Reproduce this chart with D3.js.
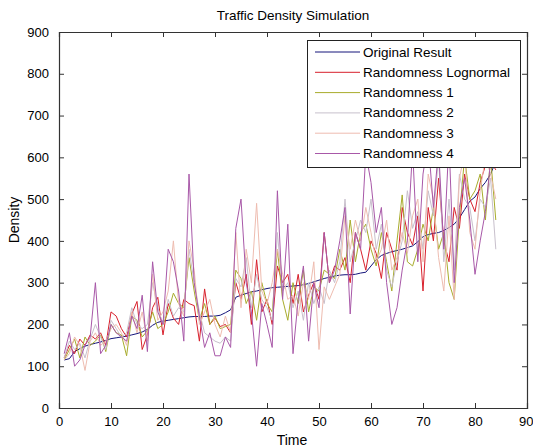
<!DOCTYPE html>
<html><head><meta charset="utf-8">
<script src="https://d3js.org/d3.v7.min.js"></script>
<style>body{margin:0;background:#fff}svg{display:block}text{font-family:"Liberation Sans",Arial,sans-serif;fill:#000}</style>
</head><body><div id="c"></div>
<script>
const time = d3.range(1, 85);
const originalResult = [115,118,135,142,148,152,155,158,162,166,168,170,172,175,178,182,188,198,205,208,210,212,214,216,218,219,219,219,220,220,222,228,235,265,270,274,278,280,283,286,288,289,290,291,292,293,295,298,302,306,310,313,316,318,319,319,320,323,325,340,355,365,370,374,377,380,384,388,398,410,415,418,420,425,432,440,455,475,495,505,525,540,560,590];
const randLognormal = [120,150,130,165,150,175,165,180,150,230,220,190,170,225,255,140,175,240,265,175,250,215,200,260,250,245,160,285,200,215,195,200,180,300,260,320,200,355,230,260,200,340,300,320,250,320,230,270,300,260,420,300,340,330,360,300,420,380,330,400,370,310,420,380,330,480,420,390,460,280,480,400,550,400,350,480,430,560,500,470,540,580,590,570];
const rand1 = [115,140,165,120,170,150,160,175,135,200,180,175,125,220,210,170,185,230,190,200,230,275,250,240,360,280,210,250,200,220,190,195,200,330,310,250,280,210,300,250,230,380,260,210,300,250,330,230,290,280,330,320,310,380,330,450,350,420,440,380,340,420,350,280,400,510,350,340,380,440,400,480,380,420,300,260,460,600,500,520,560,450,600,450];
const rand2 = [120,160,140,155,120,165,200,170,140,210,190,170,180,240,200,190,200,300,240,200,260,220,240,230,380,300,230,180,170,160,155,170,160,310,290,360,240,320,260,240,210,420,280,300,240,280,210,300,250,290,250,330,300,350,500,350,400,450,420,500,380,440,330,290,350,400,520,430,470,380,520,460,600,350,500,330,560,500,480,400,500,480,550,380];
const rand3 = [115,130,170,150,90,160,180,150,160,190,200,180,150,230,180,230,160,320,210,230,280,400,250,220,400,330,200,230,260,200,170,220,180,420,240,380,300,490,280,250,300,380,320,260,270,220,300,260,350,140,290,260,290,320,460,380,450,400,480,420,350,380,450,330,360,420,370,460,500,350,560,500,360,280,460,260,550,610,420,380,520,600,560,500];
const rand4 = [130,180,100,115,150,170,300,130,150,200,180,170,160,220,190,270,135,350,230,200,380,350,280,160,560,300,220,145,180,125,125,170,145,430,500,300,230,100,250,200,145,520,260,440,130,260,340,160,300,240,420,300,330,400,480,225,420,380,610,540,420,480,300,200,240,330,400,620,350,560,640,480,620,380,640,300,480,550,450,320,400,470,590,580];
const seriesNames = ["Original Result","Randomness Lognormal","Randomness 1","Randomness 2","Randomness 3","Randomness 4"];
const seriesValues = [originalResult, randLognormal, rand1, rand2, rand3, rand4];
const seriesColors = ["#14147a","#d8202c","#a8ac2c","#c8c0cc","#eebcb0","#a858a8"];
const xTicks = d3.range(0, 91, 10);
const yTicks = d3.range(0, 901, 100);

const W = 533, H = 448;
const m = {l:59, r:6, t:32, b:40};
const svg = d3.select("#c").append("svg").attr("width", W).attr("height", H);
const x = d3.scaleLinear().domain([0, 90]).range([m.l, W - m.r]);
const y = d3.scaleLinear().domain([0, 900]).range([H - m.b, m.t]);

svg.append("rect").attr("x", m.l).attr("y", m.t).attr("width", x(90)-m.l).attr("height", y(0)-m.t).attr("fill", "#fff");

const line = d3.line().x((d, i) => x(time[i])).y(d => y(d));
svg.append("clipPath").attr("id","cp").append("rect").attr("x", m.l).attr("y", m.t).attr("width", x(90)-m.l).attr("height", y(0)-m.t);
const g = svg.append("g").attr("clip-path","url(#cp)");
seriesValues.forEach((vals, k) => {
  g.append("path").datum(vals).attr("d", line).attr("fill","none").attr("stroke", seriesColors[k]).attr("stroke-width", 1);
});

// axes
const ax = svg.append("g").attr("transform", `translate(0,${y(0)})`).call(d3.axisBottom(x).tickValues(xTicks).tickSize(-5).tickPadding(9));
const axT = svg.append("g").attr("transform", `translate(0,${y(900)})`).call(d3.axisTop(x).tickValues(xTicks).tickSize(-5).tickFormat(""));
const ay = svg.append("g").attr("transform", `translate(${x(0)},0)`).call(d3.axisLeft(y).tickValues(yTicks).tickSize(-5).tickPadding(10));
const ayR = svg.append("g").attr("transform", `translate(${x(90)},0)`).call(d3.axisRight(y).tickValues(yTicks).tickSize(-5).tickFormat(""));
[ax, axT, ay, ayR].forEach(a => {
  a.selectAll("path.domain").attr("stroke", "#333").attr("stroke-width", 1.2);
  a.selectAll(".tick line").attr("stroke", "#333");
  a.selectAll("text").style("font-family", '"Liberation Sans",Arial,sans-serif').style("font-size", "13px").attr("fill", "#222");
});
ax.selectAll(".tick text").filter(d => d === 90).attr("text-anchor", "end").attr("x", 6);

// title and labels
svg.append("text").attr("x", 293).attr("y", 20).attr("text-anchor","middle").style("font-size","13.5px").attr("fill","#222").text("Traffic Density Simulation");
svg.append("text").attr("x", 292).attr("y", 445).attr("text-anchor","middle").style("font-size","14px").attr("fill","#222").text("Time");
svg.append("text").attr("transform","translate(19,220) rotate(-90)").attr("text-anchor","middle").style("font-size","14px").attr("fill","#222").text("Density");

// legend
const lg = svg.append("g");
lg.append("rect").attr("x", 307.5).attr("y", 40.5).attr("width", 213).attr("height", 127).attr("fill", "#fff").attr("stroke", "#222").attr("stroke-width", 1);
seriesNames.forEach((n, k) => {
  const yy = 52 + k * 20.3;
  lg.append("line").attr("x1", 315).attr("x2", 360).attr("y1", yy).attr("y2", yy).attr("stroke", seriesColors[k]).attr("stroke-width", 1);
  lg.append("text").attr("x", 363).attr("y", yy + 4.5).style("font-size","13.5px").attr("fill","#222").text(n);
});
</script></body></html>
